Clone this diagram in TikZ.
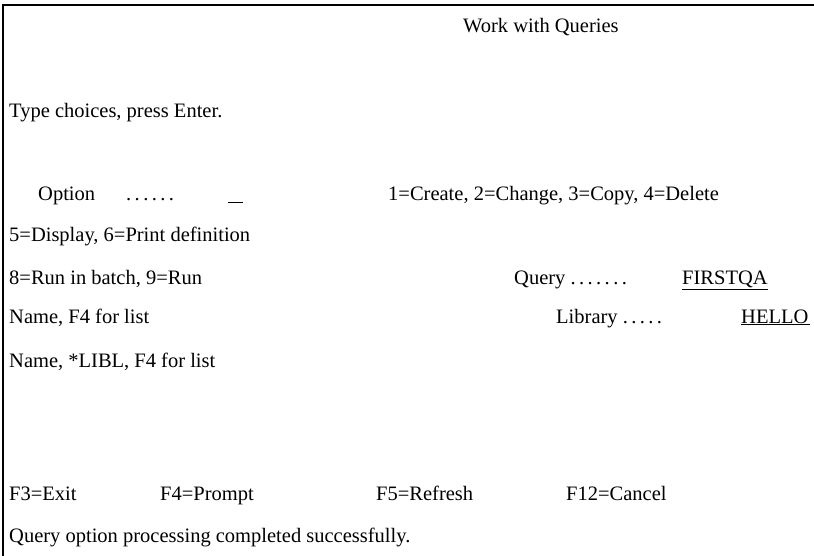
\documentclass[tikz,border=0pt]{standalone}
\usepackage{fontspec}
\setmainfont{Liberation Serif}
\usepackage{tikz}

\tikzset{scr/.style={anchor=base west,inner sep=0pt,font=\fontsize{20.5}{24}\selectfont}}

\begin{document}
\begin{tikzpicture}[x=1pt,y=-1pt]
\useasboundingbox (0,0) rectangle (814,556);
\draw[line width=2pt](3,556)--(3,5)--(814,5);
\node[scr] (title) at (463,33) {Work with Queries};
\node[scr] (type) at (9,118) {Type choices, press Enter.};
\node[scr] (opt) at (38,201) {Option};
\node[scr] (optdots) at (126,201) {.\,.\,.\,.\,.\,.};
\node[scr] (optfield) at (228,201) {\underline{\hspace{15pt}}};
\node[scr] (opt1) at (388,201) {1=Create, 2=Change, 3=Copy, 4=Delete};
\node[scr] (opt2) at (9,242) {5=Display, 6=Print definition};
\node[scr] (opt3) at (9,284) {8=Run in batch, 9=Run};
\node[scr] (qry) at (514,284) {Query .\,.\,.\,.\,.\,.\,.};
\node[scr] (qryval) at (682,284) {\underline{FIRSTQA}};
\node[scr] (qryhint) at (9,323) {Name, F4 for list};
\node[scr] (lib) at (556,323) {Library .\,.\,.\,.\,.};
\node[scr] (libval) at (741,323) {\underline{\makebox[69pt][l]{HELLO}}};
\node[scr] (libhint) at (9,367) {Name, *LIBL, F4 for list};
\node[scr] (fexit) at (9,500) {F3=Exit};
\node[scr] (fprompt) at (160,500) {F4=Prompt};
\node[scr] (frefresh) at (376,500) {F5=Refresh};
\node[scr] (fcancel) at (566,500) {F12=Cancel};
\node[scr] (msg) at (9,542) {Query option processing completed successfully.};
\end{tikzpicture}
\end{document}
